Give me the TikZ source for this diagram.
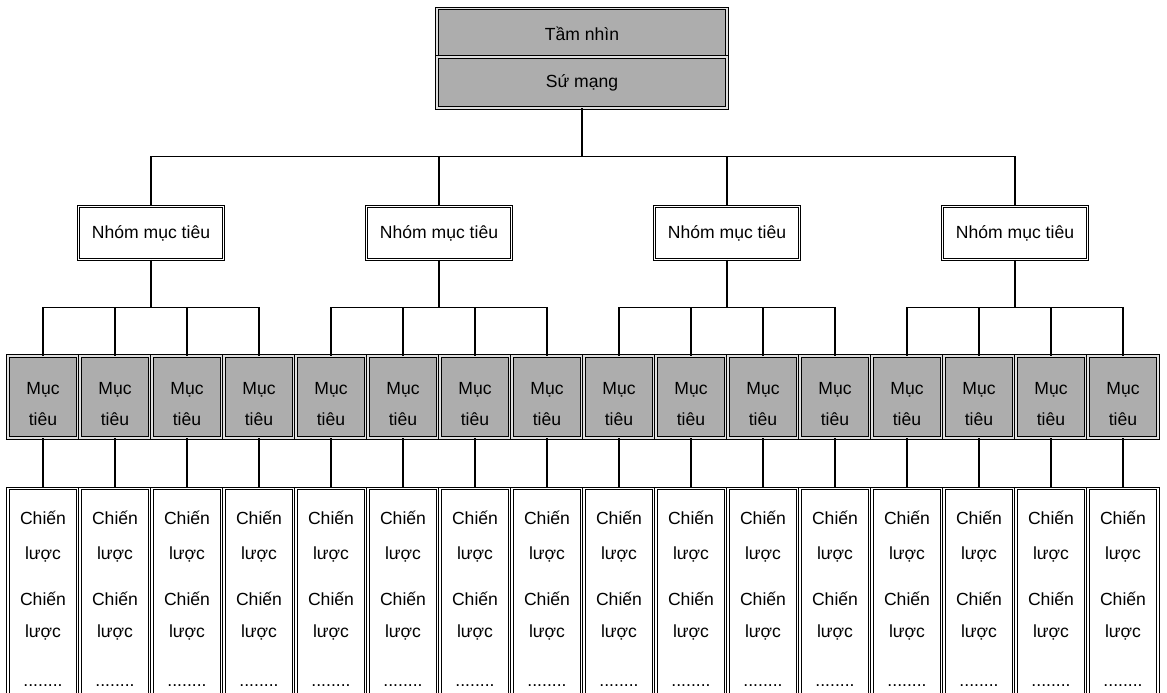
\documentclass[tikz,border=0pt]{standalone}
\usepackage{fontspec}
\setmainfont{Liberation Sans}
\usetikzlibrary{positioning}

\begin{document}
\begin{tikzpicture}[x=0.02cm, y=-0.02cm,
    hop/.style={draw=black, line width=0.5pt, double, double distance=0.9pt,
      font=\fontsize{10}{12}\selectfont, align=center, inner sep=0pt},
    tamnhin/.style={hop, fill=black!32, double=black!12, minimum width=5.8cm, minimum height=1.02cm},
    nhom/.style={hop, fill=white, minimum width=2.9cm, minimum height=1.06cm},
    muctieu/.style={hop, fill=black!32, double=black!12, minimum width=1.4cm, minimum height=1.64cm},
    chienluoc/.style={hop, fill=white, minimum width=1.4cm, anchor=north, inner ysep=13pt},
    noi/.style={draw=black, line width=0.6pt}]
  % Khung và cắt phần dưới
  \useasboundingbox (0,0) rectangle (1167,693);
  \clip (0,0) rectangle (1167,693);

  % Tầm nhìn - Sứ mạng
  \node[tamnhin] (tamnhin) at (582,34) {Tầm nhìn};
  \node[tamnhin, below=-1.9pt of tamnhin] (sumang) {Sứ mạng};
  \path (sumang.south) ++(0,48) coordinate (hub);
  \draw[noi] (sumang.south) -- (hub);

  % Các nhóm mục tiêu
  \foreach \g in {0,...,3} {
    \node[nhom] (nhom\g) at ({151+288*\g},233) {Nhóm mục tiêu};
    \draw[noi] (hub) -| (nhom\g.north);
  }

  % Các mục tiêu
  \foreach \m in {0,...,15} {
    \node[muctieu] (muc\m) at ({43+72*\m},397) {\rule{0pt}{15pt}Mục\\[5.6pt]tiêu};
  }

  % Nối nhóm với mục tiêu
  \foreach \g in {0,...,3} {
    \path (nhom\g.south) ++(0,48) coordinate (re\g);
    \draw[noi] (nhom\g.south) -- (re\g);
    \foreach \k in {0,...,3} {
      \pgfmathtruncatemacro\m{4*\g+\k}
      \draw[noi] (re\g) -| (muc\m.north);
    }
  }

  % Các chiến lược
  \foreach \m in {0,...,15} {
    \node[chienluoc] (chien\m) at ({43+72*\m},488)
      {\parbox[t]{1.3cm}{\centering Chiến\\[7.7pt]lược\\[14pt]Chiến\\[6.5pt]lược\\[16pt]........\par\vspace{30pt}}};
    \draw[noi] (muc\m.south) -- (chien\m.north);
  }
\end{tikzpicture}
\end{document}
